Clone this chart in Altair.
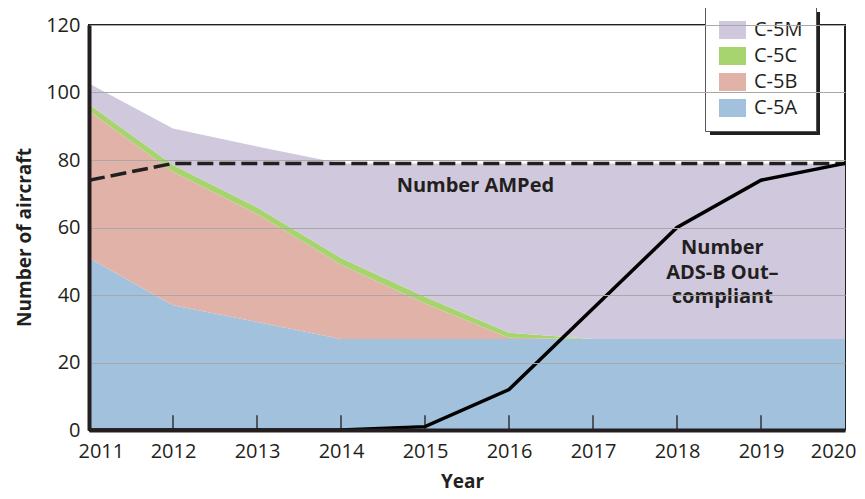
import altair as alt
import pandas as pd

years = [2011, 2012, 2013, 2014, 2015, 2016, 2017, 2018, 2019, 2020]
c5a = [51, 37, 32, 27, 27, 27, 27, 27, 27, 27]
c5b = [43.5, 39.5, 32, 22, 10.5, 0.3, 0, 0, 0, 0]
c5c = [2, 2, 2, 2, 2, 1.5, 0, 0, 0, 0]
c5m = [6.2, 10.8, 18, 28, 39.5, 50.2, 52, 52, 52, 52]
amped = [74, 79, 79, 79, 79, 79, 79, 79, 79, 79]
adsb = [0, 0, 0, 0, 1, 12, 36, 60, 74, 79]
tick_years = [2012, 2013, 2014, 2015, 2016, 2017, 2018, 2019]
series_names = ["C-5M", "C-5C", "C-5B", "C-5A"]
series_colors = ["#d0c9de", "#a8d46f", "#e1b3a8", "#a2c1dd"]

FONT = "Open Sans"
INK = "#231f20"
FS = 20

rows = []
for name, vals, order in [("C-5A", c5a, 1), ("C-5B", c5b, 2), ("C-5C", c5c, 3), ("C-5M", c5m, 4)]:
    for y, v in zip(years, vals):
        rows.append({"year": y, "fleet": name, "count": v, "ord": order})
df = pd.DataFrame(rows)
lines_df = pd.DataFrame({"year": years, "amped": amped, "adsb": adsb})
ticks_df = pd.DataFrame({"year": tick_years, "y0": [0] * len(tick_years), "y1": [4.4] * len(tick_years)})
ann_df = pd.DataFrame({
    "year": [2015.6, 2018.54],
    "val": [72.2, 53.8],
    "label": [["Number AMPed"], ["Number", "ADS-B Out\u2013", "compliant"]],
})

xscale = alt.Scale(domain=[2011, 2020], nice=False, zero=False)
yscale = alt.Scale(domain=[0, 120], nice=False)

xaxis = alt.Axis(values=years, format="d", title="Year", grid=False, ticks=False,
                 labelFontSize=FS, labelFont=FONT, labelColor=INK, labelPadding=11,
                 labelFlush=True, labelFlushOffset=11,
                 titleFontSize=19, titleFont=FONT, titleFontWeight="bold", titleColor=INK,
                 titlePadding=11, titleX=373, domainColor=INK, domainWidth=4, zindex=1)
yaxis = alt.Axis(values=[0, 20, 40, 60, 80, 100, 120], title="Number of aircraft",
                 grid=True, gridColor="#a8a8a8", gridWidth=1.2, ticks=False,
                 labelFontSize=FS, labelFont=FONT, labelColor=INK, labelPadding=9,
                 titleFontSize=19, titleFont=FONT, titleFontWeight="bold", titleColor=INK,
                 titlePadding=11, titleY=212, domainColor=INK, domainWidth=4, zindex=1)

areas = alt.Chart(df).mark_area(interpolate="linear").encode(
    x=alt.X("year:Q", scale=xscale, axis=xaxis),
    y=alt.Y("count:Q", stack="zero", scale=yscale, axis=yaxis),
    color=alt.Color("fleet:N", scale=alt.Scale(domain=series_names, range=series_colors),
                    legend=alt.Legend(title=None, orient="none", legendX=616, legendY=-18,
                                      symbolType="M-1,-1L2,-1L2,1L-1,1Z",
                                      symbolSize=324, symbolStrokeWidth=0, symbolOpacity=1,
                                      labelFontSize=FS, labelFont=FONT, labelColor=INK,
                                      labelOffset=16, rowPadding=6, padding=13,
                                      fillColor="white", strokeColor="#555555")),
    order=alt.Order("ord:Q"),
)

shadow = alt.Chart(pd.DataFrame({"k": [0]})).mark_rect(color=INK).encode(
    x=alt.value(621), x2=alt.value(731), y=alt.value(-13), y2=alt.value(110)
)

tick_rules = alt.Chart(ticks_df).mark_rule(color="#333333", strokeWidth=1.5).encode(
    x=alt.X("year:Q", scale=xscale), y=alt.Y("y0:Q", scale=yscale), y2="y1:Q"
)

amped_line = alt.Chart(lines_df).mark_line(color=INK, strokeWidth=3.5, strokeDash=[16, 6]).encode(
    x=alt.X("year:Q", scale=xscale), y=alt.Y("amped:Q", scale=yscale)
)
adsb_line = alt.Chart(lines_df).mark_line(color="black", strokeWidth=3.5).encode(
    x=alt.X("year:Q", scale=xscale), y=alt.Y("adsb:Q", scale=yscale)
)

ann = alt.Chart(ann_df).mark_text(font=FONT, fontSize=FS, fontWeight="bold", color=INK,
                                  align="center", baseline="middle", lineHeight=24.5).encode(
    x=alt.X("year:Q", scale=xscale), y=alt.Y("val:Q", scale=yscale), text="label"
)

chart = alt.layer(areas, shadow, tick_rules, amped_line, adsb_line, ann).properties(
    width=756, height=405, autosize="none",
    padding={"left": 81, "top": 17, "right": 12, "bottom": 66},
).configure_view(stroke=INK, strokeWidth=2)

chart.save("out.html", embed_options={"renderer": "svg", "actions": False})
